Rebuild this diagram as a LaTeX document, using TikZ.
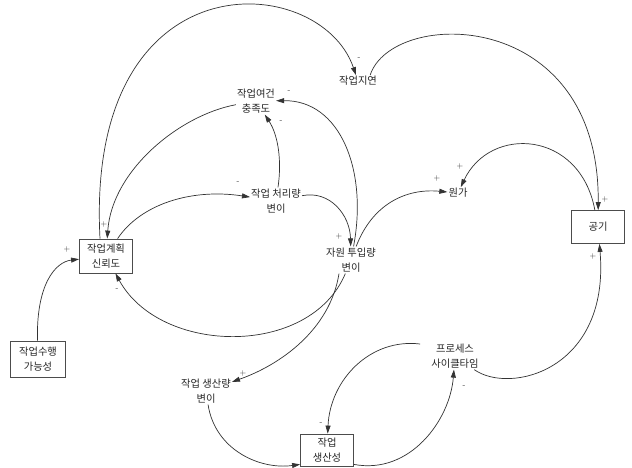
\documentclass[tikz,border=0pt]{standalone}
\usepackage{fontspec}
\newfontfamily\cjk{Noto Sans CJK KR}
\usetikzlibrary{arrows.meta}
\begin{document}
\begin{tikzpicture}[x=1pt,y=-1pt,
  lbl/.style={font=\cjk\fontsize{10.3}{15.5}\selectfont, align=center, inner sep=1pt, text=black!85},
  bx/.style={lbl, draw=black!70, line width=0.8pt, inner sep=2pt},
  lnk/.style={draw=black!80, line width=0.7pt, -{Triangle[length=8pt,width=5pt]}},
  sg/.style={font=\fontsize{8}{8}\selectfont, inner sep=0pt, text=black!80}]
\fill[white] (0,0) rectangle (632,468);
\useasboundingbox (0,0) rectangle (632,468);

\node[bx, minimum width=53pt, minimum height=34pt] (rel) at (106,256) {작업계획\\신뢰도};
\node[bx, minimum width=55pt, minimum height=36pt] (feas) at (38,359) {작업수행\\가능성};
\node[lbl] (cond) at (256,101) {작업여건\\충족도};
\node[lbl] (delay) at (358,81) {작업지연};
\node[lbl] (thru) at (276,201) {작업 처리량\\변이};
\node[lbl] (res) at (351,260) {자원 투입량\\변이};
\node[lbl] (cost) at (458,193) {원가};
\node[bx, minimum width=53pt, minimum height=33pt] (dur) at (598,227) {공기};
\node[lbl] (outp) at (206,391) {작업 생산량\\변이};
\node[bx, minimum width=53pt, minimum height=32pt] (prod) at (327,450) {작업\\생산성};
\node[lbl] (cyc) at (455,356) {프로세스\\사이클타임};

\draw[lnk] ([xshift=-6pt]rel.north) .. controls (85,-45) and (320,-30) .. (delay);
\draw[lnk] ([xshift=-8pt]delay.north east) .. controls (392,8) and (600,6) .. (dur);
\draw[lnk] (cond) .. controls (180,115) and (112,170) .. (rel);
\draw[lnk] (thru) .. controls (282,160) and (278,135) .. (cond);
\draw[lnk] (res) .. controls (368,170) and (340,100) .. (cond);
\draw[lnk] (rel) .. controls (140,205) and (190,188) .. (thru);
\draw[lnk] (thru) .. controls (330,190) and (350,215) .. (res);
\draw[lnk] (res) .. controls (372,205) and (405,188) .. (cost);
\draw[lnk] (dur) .. controls (580,130) and (490,125) .. (cost);
\draw[lnk] (res) .. controls (310,358) and (160,355) .. (rel);
\draw[lnk] (feas) .. controls (36,285) and (55,262) .. (rel);
\draw[lnk] ([xshift=-12pt]res.south) .. controls (330,330) and (280,365) .. (outp);
\draw[lnk] (outp) .. controls (215,450) and (260,470) .. ([yshift=2pt]prod.south west);
\draw[lnk] ([yshift=2pt]prod.south east) .. controls (410,475) and (450,420) .. (cyc);
\draw[lnk] ([xshift=-10pt,yshift=12pt]cyc.west) .. controls (370,338) and (330,380) .. (prod);
\draw[lnk] (cyc) .. controls (510,395) and (610,370) .. (dur);

\node[sg] (s1) at (359,59) {-};
\node[sg] (s2) at (605,199) {+};
\node[sg] (s3) at (104,224) {+};
\node[sg] (s4) at (281,122) {-};
\node[sg] (s5) at (289,92) {-};
\node[sg] (s6) at (238,183) {-};
\node[sg] (s7) at (339,236) {+};
\node[sg] (s8) at (437,179) {+};
\node[sg] (s9) at (460,166) {+};
\node[sg] (s10) at (117,290) {-};
\node[sg] (s11) at (67,249) {+};
\node[sg] (s12) at (243,373) {+};
\node[sg] (s14) at (464,387) {-};
\node[sg] (s15) at (321,424) {-};
\node[sg] (s16) at (593,256) {+};
\end{tikzpicture}
\end{document}
